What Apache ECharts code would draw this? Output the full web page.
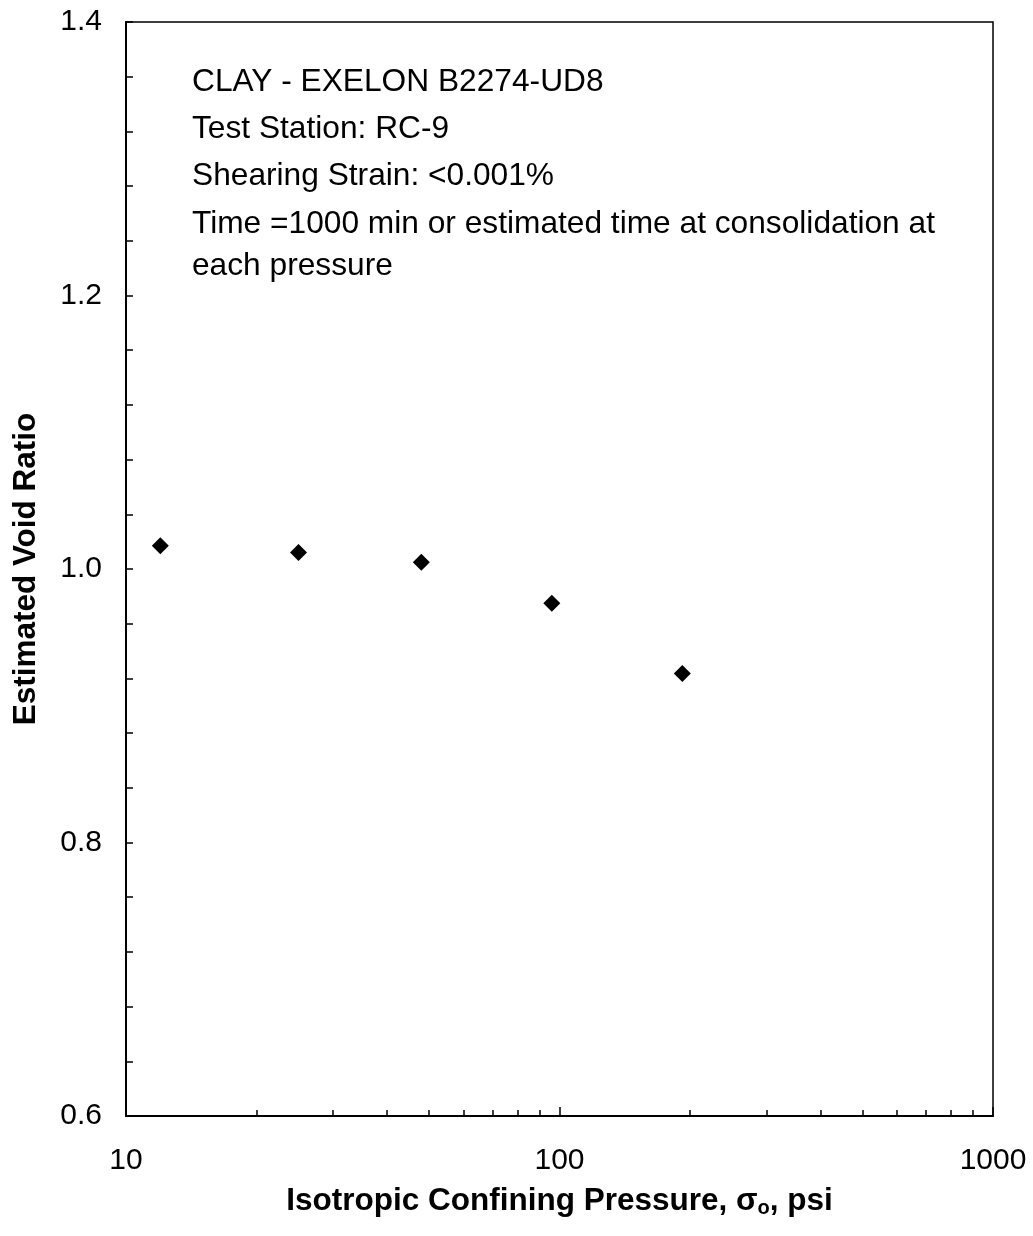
<!DOCTYPE html>
<html>
<head>
<meta charset="utf-8">
<script src="https://cdn.jsdelivr.net/npm/echarts@6/dist/echarts.min.js"></script>
<style>
  html, body { margin: 0; padding: 0; background: #fff; }
  #main { width: 1033px; height: 1236px; }
</style>
</head>
<body>
<div id="main"></div>
<script>
// pressure (psi) and estimated void ratio
var pressure = [12, 25, 48, 96, 192];
var voidRatio = [1.017, 1.012, 1.005, 0.975, 0.9235];

var yLabelValues = [0.6, 0.8, 1.0, 1.2, 1.4];
var xMinorTicks = [20, 30, 40, 50, 60, 70, 80, 90, 200, 300, 400, 500, 600, 700, 800, 900];

var noteLines = [
    'CLAY - EXELON B2274-UD8',
    'Test Station: RC-9',
    'Shearing Strain: <0.001%',
    'Time =1000 min or estimated time at consolidation at',
    'each pressure'
];
var noteTops = [66, 113, 160, 208, 250];

var font = '"Liberation Sans", Arial, sans-serif';

var points = pressure.map(function (p, i) { return [p, voidRatio[i]]; });

var chart = echarts.init(document.getElementById('main'));
chart.setOption({
    backgroundColor: '#fff',
    textStyle: { fontFamily: font, color: '#000' },
    grid: {
        left: 126,
        right: 40,
        top: 22,
        bottom: 120,
        show: true,
        borderColor: '#000',
        borderWidth: 1.5
    },
    xAxis: [
        {
            type: 'log',
            logBase: 10,
            min: 10,
            max: 1000,
            name: 'Isotropic Confining Pressure, {sym|σ}{sub|o}, psi',
            nameLocation: 'middle',
            nameGap: 48,
            nameTextStyle: {
                fontFamily: font,
                fontSize: 31.5,
                fontWeight: 'bold',
                color: '#000',
                lineHeight: 40,
                rich: {
                    sym: { fontFamily: font, fontSize: 31.5, fontWeight: 'bold', lineHeight: 40 },
                    sub: { fontFamily: font, fontSize: 20, fontWeight: 'bold', lineHeight: 20, padding: [16, 0, 0, 0] }
                }
            },
            axisLine: { onZero: false, lineStyle: { color: '#000', width: 2 } },
            axisTick: { show: true, inside: true, length: 9, lineStyle: { color: '#000', width: 1.5 } },
            axisLabel: {
                fontFamily: font,
                fontSize: 30,
                color: '#000',
                margin: 30,
                formatter: function (v) { return String(Math.round(v)); }
            },
            splitLine: { show: false },
            minorTick: { show: false }
        },
        {
            type: 'log',
            logBase: 10,
            min: 10,
            max: 1000,
            position: 'bottom',
            axisLine: { show: false, onZero: false },
            axisTick: { show: true, inside: true, length: 6, customValues: xMinorTicks, lineStyle: { color: '#000', width: 1.5 } },
            axisLabel: { show: false },
            splitLine: { show: false }
        }
    ],
    yAxis: {
        type: 'value',
        min: 0.6,
        max: 1.4,
        interval: 0.04,
        name: 'Estimated Void Ratio',
        nameLocation: 'middle',
        nameGap: 84,
        nameTextStyle: { fontFamily: font, fontSize: 31.5, fontWeight: 'bold', color: '#000' },
        axisLine: { onZero: false, lineStyle: { color: '#000', width: 2 } },
        axisTick: { inside: true, length: 7, lineStyle: { color: '#000', width: 1.5 } },
        axisLabel: {
            fontFamily: font,
            fontSize: 30,
            color: '#000',
            margin: 24,
            formatter: function (v) {
                for (var i = 0; i < yLabelValues.length; i++) {
                    if (Math.abs(v - yLabelValues[i]) < 1e-6) return yLabelValues[i].toFixed(1);
                }
                return '';
            }
        },
        splitLine: { show: false }
    },
    graphic: noteLines.map(function (t, i) {
        return {
            type: 'text',
            left: 192,
            top: noteTops[i],
            style: { text: t, fontFamily: font, fontSize: 31.7, fill: '#000' }
        };
    }),
    series: [
        {
            type: 'scatter',
            xAxisIndex: 0,
            symbol: 'diamond',
            symbolSize: 17,
            itemStyle: { color: '#000', opacity: 1 },
            data: points
        }
    ]
});
</script>
</body>
</html>
